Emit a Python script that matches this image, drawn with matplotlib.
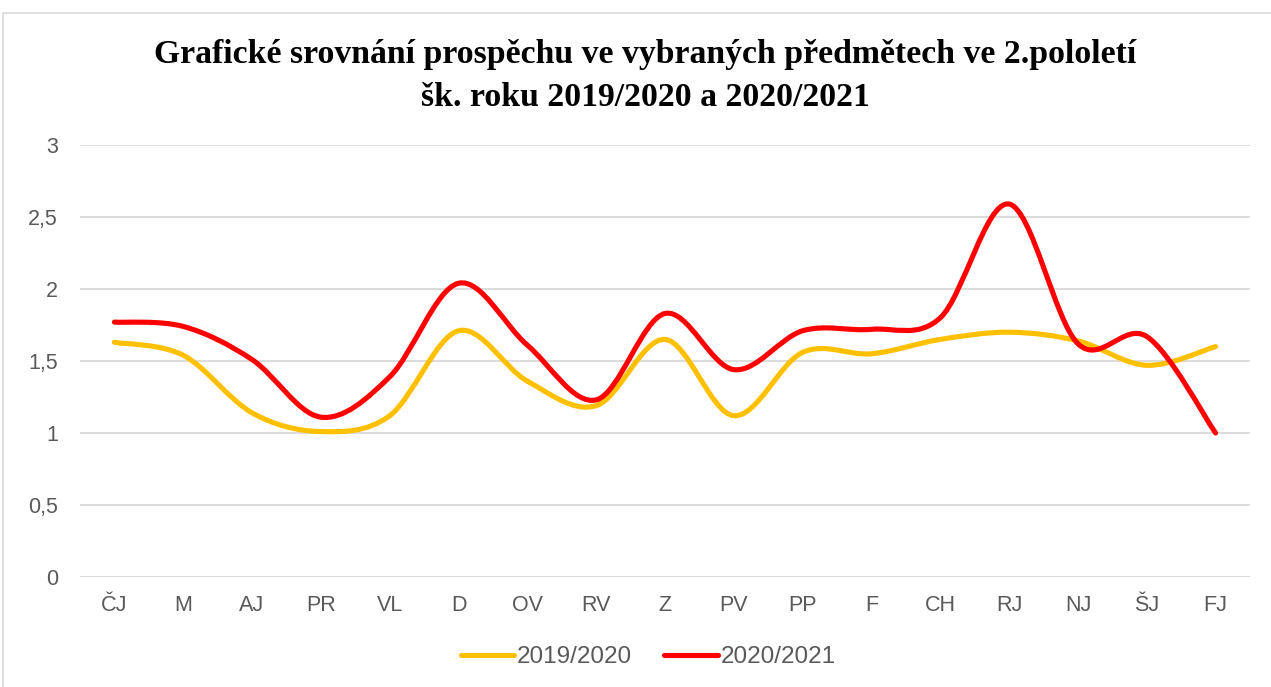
import matplotlib
matplotlib.use("Agg")
import matplotlib.pyplot as plt
import numpy as np
from matplotlib.path import Path
from matplotlib.patches import PathPatch, Rectangle
from matplotlib.lines import Line2D

categories = ["ČJ", "M", "AJ", "PR", "VL", "D", "OV", "RV", "Z", "PV",
              "PP", "F", "CH", "RJ", "NJ", "ŠJ", "FJ"]
series_2019 = [1.63, 1.54, 1.14, 1.01, 1.12, 1.71, 1.36, 1.19, 1.65, 1.12,
               1.56, 1.55, 1.65, 1.70, 1.64, 1.47, 1.60]
series_2020 = [1.77, 1.74, 1.51, 1.11, 1.39, 2.04, 1.61, 1.23, 1.83, 1.44,
               1.71, 1.72, 1.80, 2.59, 1.62, 1.67, 1.00]
series_labels = ["2019/2020", "2020/2021"]
series_colors = ["#FFC000", "#FF0000"]
y_ticks = [0, 0.5, 1, 1.5, 2, 2.5, 3]
y_tick_labels = ["0", "0,5", "1", "1,5", "2", "2,5", "3"]
title = "Grafické srovnání prospěchu ve vybraných předmětech ve 2.pololetí\nšk. roku 2019/2020 a 2020/2021"

W, H = 1271, 687
fig = plt.figure(figsize=(W / 100, H / 100), dpi=100)
fig.patch.set_facecolor("white")

# chart border
fig.patches.append(Rectangle((3 / W, -0.05), 1.1, 1 - 13 / H + 0.05,
                             transform=fig.transFigure, fill=False,
                             edgecolor="#D9D9D9", linewidth=1.2))

ax = fig.add_axes([80 / W, 1 - 577 / H, (1250 - 80) / W, (577 - 145) / H])
ax.set_xlim(-0.5, len(categories) - 0.5)
ax.set_ylim(0, 3)
for s in ax.spines.values():
    s.set_visible(False)
ax.set_yticks(y_ticks)
ax.set_yticklabels(y_tick_labels)
ax.set_xticks(range(len(categories)))
ax.set_xticklabels(categories)
ax.tick_params(axis="both", length=0, labelsize=15.5, labelcolor="#595959",
               labelfontfamily="Liberation Sans")
ax.tick_params(axis="y", pad=16)
ax.tick_params(axis="x", pad=13)
ax.grid(axis="y", color="#D9D9D9", linewidth=1.3)
ax.set_axisbelow(True)


def smooth_path(ys):
    xs = np.arange(len(ys), dtype=float)
    pts = np.column_stack([xs, np.asarray(ys, dtype=float)])
    n = len(pts)
    verts = [pts[0]]
    codes = [Path.MOVETO]
    for i in range(n - 1):
        p0 = pts[i - 1] if i > 0 else pts[i]
        p1 = pts[i]
        p2 = pts[i + 1]
        p3 = pts[i + 2] if i + 2 < n else pts[i + 1]
        c1 = p1 + (p2 - p0) / 6.0
        c2 = p2 - (p3 - p1) / 6.0
        verts += [c1, c2, p2]
        codes += [Path.CURVE4] * 3
    return Path(verts, codes)


handles = []
for ys, col, lab in zip([series_2019, series_2020], series_colors, series_labels):
    patch = PathPatch(smooth_path(ys), fill=False, edgecolor=col,
                      linewidth=3.7, capstyle="round", joinstyle="round",
                      zorder=3)
    ax.add_patch(patch)
    handles.append(Line2D([], [], color=col, linewidth=3.7,
                          solid_capstyle="round", label=lab))

fig.text(0.5 * (150 + 1140) / W, 1 - 76 / H, title, ha="center", va="center",
         fontsize=24.3, fontweight="bold", family="Liberation Serif",
         linespacing=1.5, color="black")

leg = fig.legend(handles=handles, loc="center", bbox_to_anchor=(648 / W, 1 - 657 / H),
                 ncol=2, frameon=False, handlelength=2.2, handletextpad=0.1,
                 columnspacing=1.35,
                 prop={"family": "Liberation Sans", "size": 17.5})
for t in leg.get_texts():
    t.set_color("#595959")

fig.savefig("out.png", dpi=100, facecolor="white")
